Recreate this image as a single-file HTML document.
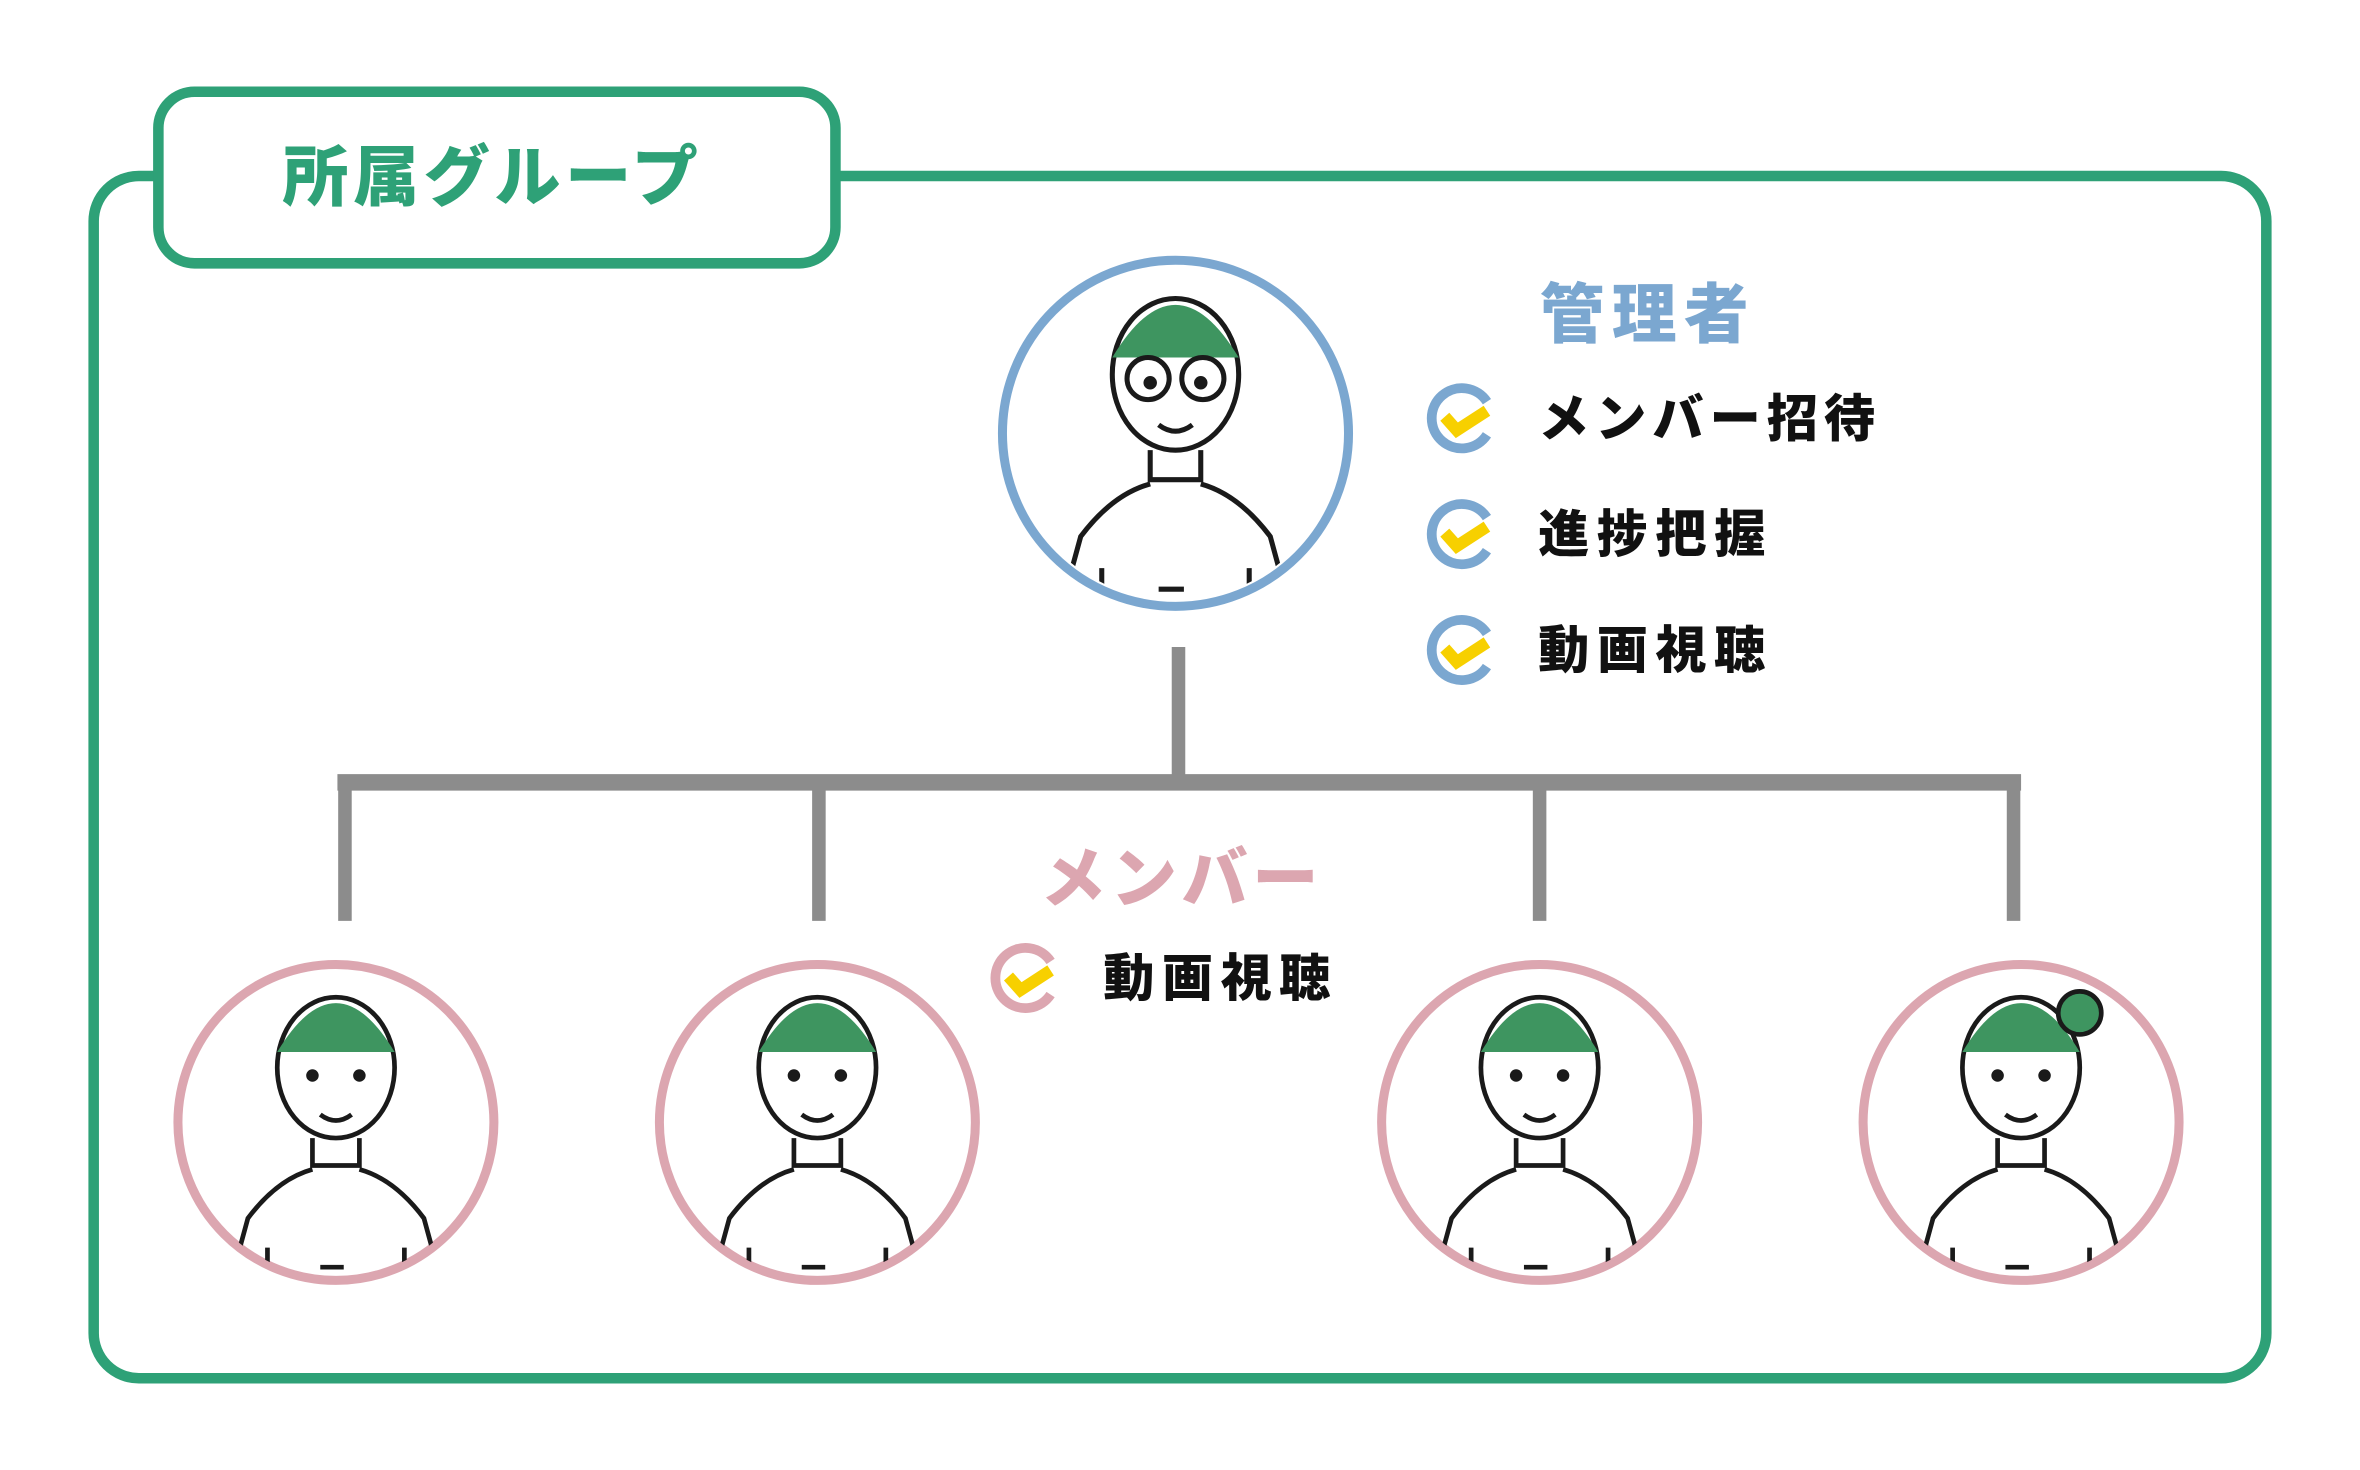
<!DOCTYPE html>
<html><head><meta charset="utf-8"><style>
html,body{margin:0;padding:0;background:#fff;}
svg{display:block;}
text{font-family:"Liberation Sans","Noto Sans CJK JP",sans-serif;font-weight:900;}
</style></head><body>
<svg width="2360" height="1470" viewBox="0 0 1568 977" xmlns="http://www.w3.org/2000/svg">
<defs>
<g id="chkB"><path d="M 17 -11 A 20 20 0 1 0 17 11" fill="none" stroke="#7ba7d0" stroke-width="6.5"/><path d="M -11 -1 L -3 8 L 17 -5" fill="none" stroke="#f7d000" stroke-width="8"/></g>
<g id="chkP"><path d="M 17 -11 A 20 20 0 1 0 17 11" fill="none" stroke="#dca6b0" stroke-width="6.5"/><path d="M -11 -1 L -3 8 L 17 -5" fill="none" stroke="#f7d000" stroke-width="8"/></g>
<clipPath id="c0"><circle cx="0" cy="0" r="79"/></clipPath>
<g id="person">
 <g clip-path="url(#c0)"><g transform="translate(0,-6)" fill="none" stroke="#1a1a1a" stroke-width="2.4">
  <ellipse cx="0" cy="-22" rx="30" ry="36" fill="#fff"/>
  <path d="M -30 -30 Q 0 -80 30 -30 Z" fill="#3e9560" stroke="none"/>
  <circle cx="-12" cy="-18" r="2" fill="#1a1a1a"/><circle cx="12" cy="-18" r="2" fill="#1a1a1a"/>
  <path d="M -8 2 Q 0 8 8 2"/>
  <path d="M -12 14 L -12 28 L 12 28 L 12 14"/>
  <path d="M -60 110 L -45 55 Q -30 35 -12 30 M 12 30 Q 30 35 45 55 L 60 110"/>
  <path d="M -35 70 L -35 110 M 35 70 L 35 110 M -8 80 L 4 80 M -8 88 L 4 88"/>
 </g></g>
</g>
</defs>
<rect x="62" y="117" width="1444" height="799" rx="30" fill="none" stroke="#2ea177" stroke-width="7"/>
<rect x="105" y="61" width="450" height="114" rx="24" fill="#fff" stroke="#2ea177" stroke-width="7"/>
<text x="327" y="133" font-size="44" fill="#2ea177" text-anchor="middle" letter-spacing="3">所属グループ</text>

<g stroke="#8c8c8c" fill="none">
<line x1="783" y1="430" x2="783" y2="520" stroke-width="9"/>
<line x1="224" y1="520" x2="1343" y2="520" stroke-width="11"/>
<line x1="229" y1="520" x2="229" y2="612" stroke-width="9"/>
<line x1="544" y1="520" x2="544" y2="612" stroke-width="9"/>
<line x1="1023" y1="520" x2="1023" y2="612" stroke-width="9"/>
<line x1="1338" y1="520" x2="1338" y2="612" stroke-width="9"/>
</g>

<circle cx="781" cy="288" r="115" fill="#fff" stroke="#7ba7d0" stroke-width="6"/>
<g transform="translate(781,288) scale(1.4)"><use href="#person"/>
<g fill="none" stroke="#1a1a1a" stroke-width="2.4" transform="translate(0,-6)"><circle cx="-13" cy="-20" r="10"/><circle cx="13" cy="-20" r="10"/></g></g>
<text x="1095" y="224" font-size="43" fill="#7ba7d0" text-anchor="middle" letter-spacing="5">管理者</text>
<use href="#chkB" x="971" y="278"/><text x="1022" y="290" font-size="34" fill="#111" letter-spacing="4">メンバー招待</text>
<use href="#chkB" x="971" y="355"/><text x="1022" y="367" font-size="34" fill="#111" letter-spacing="5">進捗把握</text>
<use href="#chkB" x="971" y="432"/><text x="1022" y="444" font-size="34" fill="#111" letter-spacing="5">動画視聴</text>

<text x="785" y="599" font-size="44" fill="#dca6b0" text-anchor="middle" letter-spacing="3">メンバー</text>
<use href="#chkP" x="681" y="650"/><text x="733" y="662" font-size="34" fill="#111" letter-spacing="5">動画視聴</text>

<circle cx="223" cy="746" r="105" fill="#fff" stroke="#dca6b0" stroke-width="6"/>
<g transform="translate(223,746) scale(1.3)"><use href="#person"/></g>
<circle cx="543" cy="746" r="105" fill="#fff" stroke="#dca6b0" stroke-width="6"/>
<g transform="translate(543,746) scale(1.3)"><use href="#person"/></g>
<circle cx="1023" cy="746" r="105" fill="#fff" stroke="#dca6b0" stroke-width="6"/>
<g transform="translate(1023,746) scale(1.3)"><use href="#person"/></g>
<circle cx="1343" cy="746" r="105" fill="#fff" stroke="#dca6b0" stroke-width="6"/>
<g transform="translate(1343,746) scale(1.3)"><use href="#person"/><circle cx="30" cy="-56" r="11" fill="#3e9560" stroke="#1a1a1a" stroke-width="2.4"/></g>
</svg>
</body></html>
